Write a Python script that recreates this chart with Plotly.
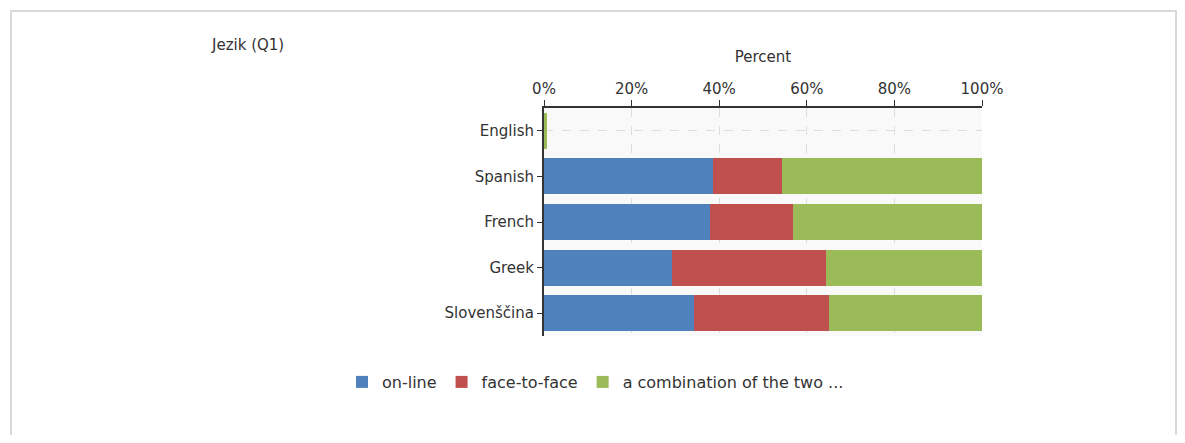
import plotly.graph_objects as go

categories = ["English", "Spanish", "French", "Greek", "Slovenščina"]
online = [0, 38.5, 37.9, 29.2, 34.3]
face_to_face = [0, 15.8, 18.9, 35.1, 30.7]
combination = [0.6, 45.7, 43.2, 35.7, 35.0]
series_names = ["on-line", "face-to-face", "a combination of the two ..."]
colors = ["#4F81BD", "#C0504D", "#9BBB59"]
tick_vals = [0, 20, 40, 60, 80, 100]
tick_text = ["0%", "20%", "40%", "60%", "80%", "100%"]

OFF = 8  # page body margin
W, H = 1169, 427
L, T = 544 - OFF, 108 - OFF
R = W - (982 - OFF)
B = H - (336 - OFF)
pw, ph = W - L - R, H - T - B

def px_x(p):
    return (p - OFF - L) / pw

def px_y(p):
    return (H - B - (p - OFF)) / ph

FONT = "DejaVu Sans"
FS = 15
fig = go.Figure()
for name, vals, col in zip(series_names, [online, face_to_face, combination], colors):
    fig.add_trace(go.Bar(
        y=categories, x=vals, name=name, orientation="h",
        marker=dict(color=col, line=dict(width=0)),
        hovertemplate="%{y}: %{x}%<extra>" + name + "</extra>",
    ))

fig.update_layout(
    width=W, height=H,
    margin=dict(l=L, r=R, t=T, b=B),
    barmode="stack", bargap=0.21,
    paper_bgcolor="white", plot_bgcolor="#f9f9f9",
    font=dict(family=FONT, size=FS, color="#333333"),
    showlegend=True,
    legend=dict(
        orientation="h", x=px_x(342), xanchor="left",
        y=px_y(382), yanchor="middle",
        font=dict(family=FONT, size=16, color="#333333"),
        bgcolor="rgba(0,0,0,0)", traceorder="normal",
    ),
    xaxis=dict(
        side="top", range=[0, 100], tickvals=tick_vals, ticktext=tick_text,
        showgrid=True, gridcolor="#dddddd", griddash="dash", gridwidth=1,
        showline=True, linecolor="#333333", linewidth=2,
        ticks="outside", ticklen=6, tickcolor="#333333",
        title=dict(text="Percent", standoff=14, font=dict(size=FS)),
        zeroline=False, fixedrange=True,
    ),
    yaxis=dict(
        categoryorder="array", categoryarray=categories, autorange="reversed",
        showgrid=True, gridcolor="#dddddd", griddash="dash", gridwidth=1,
        showline=True, linecolor="#333333", linewidth=2,
        ticks="outside", ticklen=5, tickcolor="#333333",
        zeroline=False, fixedrange=True,
    ),
    annotations=[dict(
        text="Jezik (Q1)", xref="paper", yref="paper",
        x=px_x(209), y=px_y(45), xanchor="left", yanchor="middle",
        showarrow=False, font=dict(family=FONT, size=FS, color="#333333"),
    )],
    shapes=[dict(
        type="rect", xref="paper", yref="paper",
        x0=px_x(11), x1=px_x(1176), y0=px_y(460), y1=px_y(11),
        line=dict(color="#d9d9d9", width=2), layer="below",
    )],
)

fig.write_html("out.html")
